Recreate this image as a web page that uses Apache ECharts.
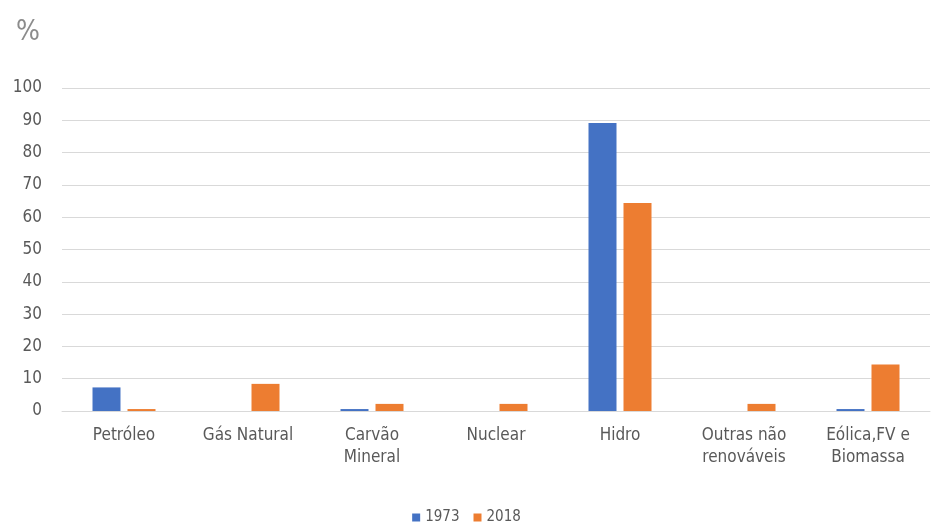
<!DOCTYPE html>
<html>
<head>
<meta charset="utf-8">
<script src="https://cdn.jsdelivr.net/npm/echarts@6/dist/echarts.min.js"></script>
<style>html,body{margin:0;padding:0;background:#fff;}#c{width:933px;height:522px;}</style>
</head>
<body>
<div id="c"></div>
<script>
const categories = ['Petróleo', 'Gás Natural', 'Carvão\nMineral', 'Nuclear', 'Hidro', 'Outras não\nrenováveis', 'Eólica,FV e\nBiomassa'];
const seriesNames = ['1973', '2018'];
const values1973 = [7.3, 0, 0.6, 0, 89.2, 0, 0.6];
const values2018 = [0.6, 8.4, 2.2, 2.2, 64.4, 2.2, 14.4];
const yTicks = [0, 10, 20, 30, 40, 50, 60, 70, 80, 90, 100];

const font = '"DejaVu Sans Condensed", "DejaVu Sans", sans-serif';
const chart = echarts.init(document.getElementById('c'), null, {renderer: 'canvas'});
chart.setOption({
  animation: false,
  backgroundColor: '#ffffff',
  title: {
    text: '%', left: 11, top: 14,
    textStyle: {fontFamily: font, fontSize: 28, fontWeight: 'normal', color: '#8c8c8c'}
  },
  legend: {
    data: seriesNames, top: 505, left: 'center',
    itemWidth: 8, itemHeight: 8, itemGap: 14, icon: 'rect',
    textStyle: {fontFamily: font, fontSize: 15, color: '#595959'}
  },
  grid: {left: 62, right: 3, top: 88, bottom: 111, containLabel: false},
  xAxis: {
    type: 'category', data: categories,
    axisLine: {lineStyle: {color: '#d9d9d9'}},
    axisTick: {show: false},
    axisLabel: {fontFamily: font, fontSize: 17, color: '#595959', margin: 14, lineHeight: 22, interval: 0}
  },
  yAxis: {
    type: 'value', min: yTicks[0], max: yTicks[yTicks.length - 1], interval: 10,
    axisLine: {show: false}, axisTick: {show: false},
    splitLine: {lineStyle: {color: '#d9d9d9'}},
    axisLabel: {fontFamily: font, fontSize: 17, color: '#595959', margin: 20}
  },
  series: [
    {name: seriesNames[0], type: 'bar', data: values1973, barWidth: 28, barGap: '25%', itemStyle: {color: '#4472C4'}},
    {name: seriesNames[1], type: 'bar', data: values2018, barWidth: 28, barGap: '25%', itemStyle: {color: '#ED7D31'}}
  ]
});
</script>
</body>
</html>
